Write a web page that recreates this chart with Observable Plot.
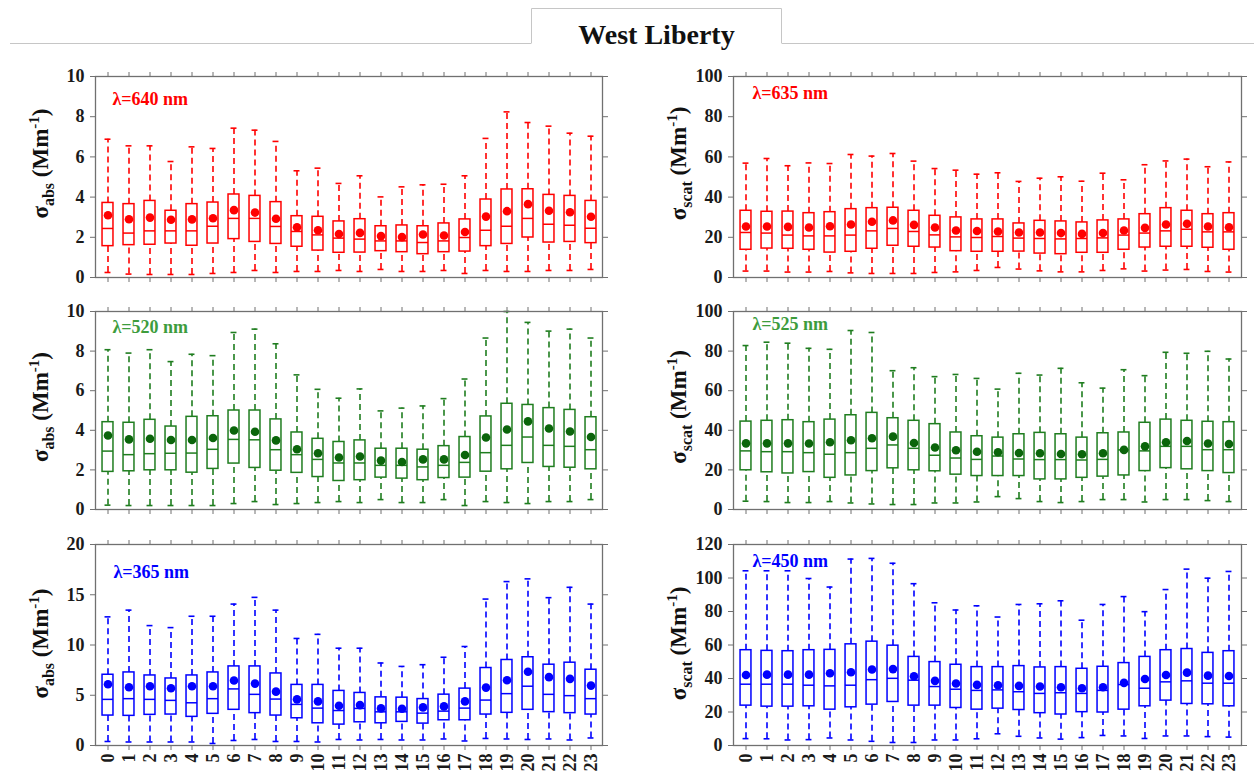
<!DOCTYPE html>
<html>
<head>
<meta charset="utf-8">
<script src="https://cdn.jsdelivr.net/npm/d3@7"></script>
<script src="https://cdn.jsdelivr.net/npm/@observablehq/plot@0.6"></script>
<style>
  body { margin: 0; background: #fff; }
  #root { position: relative; width: 1254px; height: 776px; overflow: hidden; background: #fff; }
  .panel { position: absolute; }
  #header { position: absolute; left: 0; top: 0; }
</style>
</head>
<body>
<div id="root">
  <svg id="header" width="1254" height="60"></svg>
</div>
<script>
// ---------------- DATA ----------------
const hours = [0,1,2,3,4,5,6,7,8,9,10,11,12,13,14,15,16,17,18,19,20,21,22,23];
const title = "West Liberty";

// σabs, λ = 640 nm
const abs640_max  = [6.88,6.55,6.55,5.77,6.5,6.42,7.43,7.33,6.77,5.31,5.44,4.68,5.06,4.01,4.51,4.61,4.64,5.06,6.92,8.24,7.71,7.53,7.18,7.03];
const abs640_q3   = [3.71,3.65,3.81,3.32,3.65,3.73,4.13,4.06,3.75,3.05,3.02,2.79,2.9,2.55,2.59,2.55,2.69,2.89,3.88,4.38,4.39,4.11,4.06,3.81];
const abs640_med  = [2.44,2.21,2.32,2.32,2.32,2.55,2.94,2.94,2.54,2.29,2.12,1.96,1.91,1.82,1.82,1.74,1.82,1.99,2.35,2.55,2.94,2.65,2.6,2.45];
const abs640_q1   = [1.56,1.61,1.63,1.69,1.58,1.69,1.91,1.77,1.67,1.53,1.34,1.23,1.24,1.31,1.26,1.16,1.26,1.29,1.56,1.67,1.99,1.74,1.77,1.71];
const abs640_min  = [0.25,0.17,0.15,0.15,0.15,0.2,0.25,0.35,0.25,0.3,0.3,0.35,0.3,0.4,0.3,0.3,0.35,0.2,0.35,0.3,0.3,0.35,0.35,0.4];
const abs640_mean = [3.1,2.9,2.98,2.87,2.89,2.95,3.35,3.23,2.92,2.5,2.35,2.16,2.22,2.06,2.01,2.14,2.09,2.26,3.03,3.3,3.65,3.32,3.25,3.02];

// σscat, λ = 635 nm
const scat635_max  = [56.9,59.2,55.6,57.0,56.7,61.2,60.4,61.7,57.9,54.2,53.4,51.4,52.1,47.8,49.4,50.1,47.9,51.9,48.6,56.1,58.0,58.9,55.1,57.5];
const scat635_q3   = [33.2,32.7,32.8,32.0,32.5,34.0,34.5,34.7,33.2,30.7,29.9,28.9,28.9,26.9,28.2,27.9,27.4,28.4,28.9,31.5,34.5,33.2,31.5,32.0];
const scat635_med  = [22.4,22.1,21.1,20.7,20.7,21.1,23.2,24.4,22.9,21.2,20.2,19.9,20.4,19.6,19.4,19.2,19.4,19.7,21.1,22.1,23.2,24.0,22.7,22.7];
const scat635_q1   = [13.8,14.4,14.3,13.8,12.4,12.8,14.3,15.8,15.3,14.9,13.1,12.8,12.8,12.9,11.9,11.6,12.3,12.3,13.8,14.9,15.3,15.3,14.8,13.8];
const scat635_min  = [3.2,3.2,2.7,2.7,3.0,2.3,2.0,2.0,2.0,2.5,2.8,3.5,5.0,4.2,3.3,2.8,2.8,3.5,4.3,3.2,3.7,4.0,3.0,2.7];
const scat635_mean = [25.4,25.4,25.2,24.9,25.5,26.4,27.7,28.4,26.2,24.9,23.4,23.1,22.9,22.4,22.4,22.1,21.7,22.1,23.4,24.7,26.4,26.7,25.4,25.0];

// σabs, λ = 520 nm
const abs520_max  = [8.07,7.9,8.07,7.47,7.84,7.77,8.94,9.11,8.37,6.8,6.07,5.62,6.09,4.98,5.12,5.23,5.6,6.59,8.66,10.0,9.45,9.01,9.11,8.66];
const abs520_q3   = [4.41,4.38,4.53,4.19,4.68,4.71,5.0,5.0,4.55,3.89,3.57,3.41,3.49,3.07,3.07,3.02,3.2,3.66,4.7,5.34,5.28,5.12,5.03,4.66];
const abs520_med  = [2.95,2.77,2.82,2.84,2.85,3.04,3.54,3.52,3.02,2.77,2.53,2.35,2.35,2.23,2.23,2.15,2.23,2.38,2.87,3.24,3.66,3.24,3.19,3.02];
const abs520_q1   = [1.9,1.93,1.98,1.98,1.86,2.05,2.32,2.1,1.96,1.85,1.64,1.44,1.48,1.61,1.56,1.48,1.59,1.61,1.91,2.03,2.35,2.15,2.11,2.03];
const abs520_min  = [0.22,0.2,0.2,0.2,0.2,0.2,0.3,0.4,0.25,0.3,0.35,0.4,0.35,0.5,0.35,0.35,0.5,0.2,0.4,0.35,0.3,0.4,0.4,0.5];
const abs520_mean = [3.74,3.54,3.57,3.51,3.51,3.61,3.99,3.93,3.49,3.04,2.84,2.63,2.68,2.47,2.4,2.53,2.53,2.75,3.64,4.04,4.45,4.09,3.94,3.66];

// σscat, λ = 525 nm
const scat525_max  = [82.8,84.5,84.0,81.4,80.9,90.4,89.4,70.1,71.6,67.1,68.2,66.2,60.8,68.8,67.9,71.3,64.0,61.3,70.6,67.6,79.4,78.9,79.9,76.0];
const scat525_q3   = [44.4,44.8,45.1,44.1,45.4,47.6,48.8,46.1,44.8,43.1,38.9,37.0,36.3,38.0,38.7,38.0,36.3,38.5,38.9,43.8,45.4,44.8,44.3,44.1];
const scat525_med  = [29.6,29.2,29.2,28.7,27.9,28.7,30.9,32.6,30.9,27.4,26.0,25.3,27.0,25.5,25.2,25.2,25.0,25.3,30.1,29.6,31.9,31.9,30.2,30.2];
const scat525_q1   = [19.8,18.8,18.2,18.9,16.0,17.2,19.4,20.8,19.8,19.3,17.6,16.9,16.9,16.9,15.2,15.2,16.0,16.6,17.2,19.4,20.9,20.3,19.4,18.4];
const scat525_min  = [4.2,4.0,3.5,3.5,4.0,3.3,2.8,2.5,2.5,3.3,3.3,3.8,6.5,5.5,4.0,3.5,4.0,5.0,5.0,3.8,5.0,5.0,4.5,4.0];
const scat525_mean = [33.4,33.4,33.4,33.3,34.0,35.0,36.0,36.8,33.6,31.3,29.9,29.2,28.9,28.5,28.4,28.0,27.9,28.4,30.1,31.9,34.0,34.6,33.3,33.1];

// σabs, λ = 365 nm
const abs365_max  = [12.8,13.47,11.93,11.73,12.86,12.86,14.07,14.74,13.47,10.65,11.06,9.68,9.68,8.21,7.87,8.04,8.78,9.85,14.57,16.31,16.58,14.71,15.74,14.07];
const abs365_q3   = [7.04,7.27,6.97,6.67,6.97,7.27,7.87,7.87,7.17,6.03,6.03,5.43,5.23,4.79,4.76,4.62,5.06,5.66,7.71,8.51,8.78,8.04,8.24,7.54];
const abs365_med  = [4.59,4.66,4.59,4.49,4.25,4.66,5.63,5.09,4.62,4.09,3.72,3.48,3.69,3.35,3.35,3.22,3.42,3.72,4.52,5.16,5.9,5.09,4.96,4.66];
const abs365_q1   = [2.98,2.95,3.05,3.08,2.85,3.15,3.55,3.22,2.98,2.71,2.21,2.08,2.31,2.21,2.35,2.18,2.51,2.51,3.08,3.25,3.55,3.32,3.22,3.08];
const abs365_min  = [0.4,0.35,0.35,0.35,0.35,0.2,0.5,0.6,0.4,0.4,0.35,0.6,0.55,0.6,0.55,0.55,0.65,0.45,0.7,0.65,0.6,0.65,0.55,0.75];
const abs365_mean = [6.1,5.8,5.9,5.7,5.9,5.9,6.47,6.16,5.36,4.59,4.39,3.95,4.02,3.69,3.65,3.79,3.89,4.39,5.76,6.5,7.34,6.8,6.63,5.96];

// σscat, λ = 450 nm
const scat450_max  = [104.3,104.3,104.3,99.7,94.6,111.3,111.7,108.8,96.6,85.2,80.9,83.4,76.7,84.2,84.6,86.4,74.8,84.2,88.9,79.9,93.1,105.3,99.9,103.9];
const scat450_q3   = [56.9,56.5,56.3,56.9,57.1,60.4,62.0,59.6,52.9,49.8,48.2,46.8,46.8,47.4,46.6,46.8,45.8,47.0,49.2,52.9,56.9,57.6,55.3,56.3];
const scat450_med  = [36.6,36.6,36.6,36.0,35.6,36.0,39.3,40.1,39.0,35.2,33.6,32.9,33.2,32.1,31.1,31.5,31.1,32.9,36.4,34.2,38.0,38.6,37.2,37.2];
const scat450_q1   = [23.8,23.2,23.2,23.4,21.4,22.8,24.4,26.0,23.8,23.8,22.4,21.4,22.0,21.2,19.3,18.5,19.9,19.7,21.4,23.4,26.8,24.8,24.6,23.4];
const scat450_min  = [4.1,4.0,3.3,3.5,4.5,3.3,2.5,1.8,1.8,3.3,3.3,4.0,7.0,5.5,4.5,3.8,4.7,6.0,5.7,4.2,5.7,5.7,5.3,5.0];
const scat450_mean = [42.1,42.3,42.3,42.3,43.1,43.7,45.4,45.6,41.3,38.6,37.0,36.2,36.0,35.6,35.2,34.8,34.2,34.8,37.4,39.7,42.1,43.5,41.7,41.5];

const ticksAbs10 = [0,2,4,6,8,10];
const ticksAbs20 = [0,5,10,15,20];
const ticksScat100 = [0,20,40,60,80,100];
const ticksScat120 = [0,20,40,60,80,100,120];

// ---------------- HEADER ----------------
(function header() {
  const svg = d3.select("#header");
  const lc = "#c6c6c6";
  svg.append("line").attr("x1", 10).attr("x2", 531).attr("y1", 43.5).attr("y2", 43.5).attr("stroke", lc);
  svg.append("line").attr("x1", 782).attr("x2", 1254).attr("y1", 43.5).attr("y2", 43.5).attr("stroke", lc);
  svg.append("path").attr("d", "M531.5,43.5V8.5H781.5V43.5").attr("fill", "none").attr("stroke", lc);
  svg.append("text").attr("x", 656.5).attr("y", 44).attr("text-anchor", "middle")
    .attr("font-family", "'Liberation Serif','Times New Roman',serif").attr("font-weight", "bold")
    .attr("font-size", 28).attr("fill", "#111").text(title);
})();

// ---------------- PANELS ----------------
function makeRows(mn, q1, md, q3, mx, mean) {
  return hours.map((h, i) => ({hour: h, min: mn[i], q1: q1[i], med: md[i], q3: q3[i], max: mx[i], mean: mean[i]}));
}

function panel(cfg) {
  const {left, top, width, height, mt, mb, ml, mr, yDomain, yTicks, rows, boxColor, dotColor, textColor,
         label, lblDx, lblDy, sub, ylabShift, showX} = cfg;
  const bw = (width - ml - mr) / (24 + 0.08);
  const boxInset = (bw - 11) / 2;
  const capInset = (bw - 6) / 2;
  const axisColor = "#707070";
  const chart = Plot.plot({
    width, height, marginTop: mt, marginBottom: mb, marginLeft: ml, marginRight: mr,
    style: {fontFamily: "'Liberation Serif','Times New Roman',serif", fontSize: "18px", fontWeight: "bold",
            color: "#1a1a1a", background: "transparent", overflow: "visible"},
    x: {type: "band", domain: hours, paddingInner: 0, paddingOuter: 0.04},
    y: {domain: yDomain},
    marks: [
      Plot.ruleX(rows, {x: "hour", y1: "q3", y2: "max", stroke: boxColor, strokeWidth: 1.6, strokeDasharray: "6,4"}),
      Plot.ruleX(rows, {x: "hour", y1: "min", y2: "q1", stroke: boxColor, strokeWidth: 1.6, strokeDasharray: "6,4"}),
      Plot.tickY(rows, {x: "hour", y: "max", stroke: boxColor, strokeWidth: 1.6, insetLeft: capInset, insetRight: capInset}),
      Plot.tickY(rows, {x: "hour", y: "min", stroke: boxColor, strokeWidth: 1.6, insetLeft: capInset, insetRight: capInset}),
      Plot.barY(rows, {x: "hour", y1: "q1", y2: "q3", fill: "white", stroke: boxColor, strokeWidth: 1.5, insetLeft: boxInset, insetRight: boxInset}),
      Plot.tickY(rows, {x: "hour", y: "med", stroke: boxColor, strokeWidth: 1.5, insetLeft: boxInset, insetRight: boxInset}),
      Plot.dot(rows, {x: "hour", y: "mean", r: 4.3, fill: dotColor, stroke: "none"}),
      Plot.frame({stroke: axisColor, strokeWidth: 1.3}),
      Plot.axisY({ticks: yTicks, tickSize: 5, tickPadding: 6, label: null, stroke: axisColor}),
      Plot.axisY({anchor: "right", ticks: yTicks, tickSize: 5, tickFormat: () => "", label: null, stroke: axisColor}),
      Plot.axisX({anchor: "top", tickSize: 5, tickFormat: () => "", label: null, stroke: axisColor}),
      showX
        ? Plot.axisX({anchor: "bottom", tickSize: 5, tickPadding: 3, tickRotate: -90, label: null, stroke: axisColor})
        : Plot.axisX({anchor: "bottom", tickSize: 5, tickFormat: () => "", label: null, stroke: axisColor}),
      Plot.text([label], {frameAnchor: "top-left", dx: lblDx, dy: lblDy, textAnchor: "start", lineAnchor: "middle",
                          fill: textColor, fontSize: 18, fontWeight: "bold"})
    ]
  });
  // y-axis label with subscript / superscript
  const svg = d3.select(chart);
  const cy = (mt + height - mb) / 2 + ylabShift;
  const t = svg.append("text")
    .attr("transform", `translate(${ml - 47},${cy}) rotate(-90)`)
    .attr("text-anchor", "middle")
    .attr("font-family", "'Liberation Serif','Times New Roman',serif")
    .attr("font-weight", "bold").attr("font-size", 23).attr("fill", "#111");
  t.append("tspan").text("σ");
  t.append("tspan").attr("font-size", 16).attr("dy", 6).text(sub);
  t.append("tspan").attr("dy", -6).text(" (Mm");
  t.append("tspan").attr("font-size", 15).attr("dy", -9).text("-1");
  t.append("tspan").attr("dy", 9).text(")");

  const div = document.createElement("div");
  div.className = "panel";
  div.style.left = left + "px";
  div.style.top = top + "px";
  div.appendChild(chart);
  document.getElementById("root").appendChild(div);
}

const RED = "#ff0000", GREEN = "#1f7d1f", GREEN_DOT = "#0b650b", GREEN_TXT = "#3d9c3d", BLUE = "#0000ff";

// left column
panel({left: 0, top: 60, width: 620, height: 230, mt: 16, mb: 13, ml: 95, mr: 18,
  yDomain: [0, 10], yTicks: ticksAbs10,
  rows: makeRows(abs640_min, abs640_q1, abs640_med, abs640_q3, abs640_max, abs640_mean),
  boxColor: RED, dotColor: RED, textColor: RED, label: "λ=640 nm", lblDx: 17, lblDy: 23,
  sub: "abs", ylabShift: -13, showX: false});
panel({left: 0, top: 295, width: 620, height: 230, mt: 16, mb: 16, ml: 95, mr: 18,
  yDomain: [0, 10], yTicks: ticksAbs10,
  rows: makeRows(abs520_min, abs520_q1, abs520_med, abs520_q3, abs520_max, abs520_mean),
  boxColor: GREEN, dotColor: GREEN_DOT, textColor: GREEN_TXT, label: "λ=520 nm", lblDx: 17, lblDy: 16,
  sub: "abs", ylabShift: -3, showX: false});
panel({left: 0, top: 520, width: 620, height: 256, mt: 24, mb: 31, ml: 95, mr: 18,
  yDomain: [0, 20], yTicks: ticksAbs20,
  rows: makeRows(abs365_min, abs365_q1, abs365_med, abs365_q3, abs365_max, abs365_mean),
  boxColor: BLUE, dotColor: BLUE, textColor: BLUE, label: "λ=365 nm", lblDx: 18, lblDy: 28,
  sub: "abs", ylabShift: -1, showX: true});

// right column
panel({left: 630, top: 60, width: 624, height: 230, mt: 16, mb: 13, ml: 103, mr: 13,
  yDomain: [0, 100], yTicks: ticksScat100,
  rows: makeRows(scat635_min, scat635_q1, scat635_med, scat635_q3, scat635_max, scat635_mean),
  boxColor: RED, dotColor: RED, textColor: RED, label: "λ=635 nm", lblDx: 19, lblDy: 17,
  sub: "scat", ylabShift: -13, showX: false});
panel({left: 630, top: 295, width: 624, height: 230, mt: 16, mb: 16, ml: 103, mr: 13,
  yDomain: [0, 100], yTicks: ticksScat100,
  rows: makeRows(scat525_min, scat525_q1, scat525_med, scat525_q3, scat525_max, scat525_mean),
  boxColor: GREEN, dotColor: GREEN_DOT, textColor: GREEN_TXT, label: "λ=525 nm", lblDx: 19, lblDy: 13,
  sub: "scat", ylabShift: -3, showX: false});
panel({left: 630, top: 520, width: 624, height: 256, mt: 24, mb: 31, ml: 103, mr: 13,
  yDomain: [0, 120], yTicks: ticksScat120,
  rows: makeRows(scat450_min, scat450_q1, scat450_med, scat450_q3, scat450_max, scat450_mean),
  boxColor: BLUE, dotColor: BLUE, textColor: BLUE, label: "λ=450 nm", lblDx: 19, lblDy: 17,
  sub: "scat", ylabShift: -1, showX: true});
</script>
</body>
</html>
